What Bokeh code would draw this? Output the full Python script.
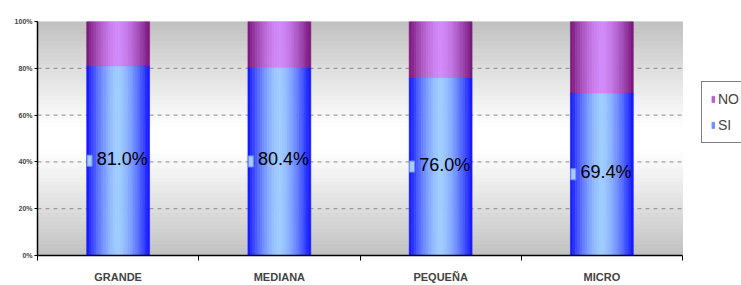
import numpy as np
from bokeh.plotting import figure
from bokeh.models import (ColumnDataSource, Range1d, FixedTicker, Legend, LegendItem)
from bokeh.transform import dodge
from bokeh.core.properties import value
from bokeh.embed import file_html
from bokeh.resources import INLINE

# ---- data ----
categories = ["GRANDE", "MEDIANA", "PEQUEÑA", "MICRO"]
si_values = [81.0, 80.4, 76.0, 69.4]
no_values = [19.0, 19.6, 24.0, 30.6]
si_labels = ["81.0%", "80.4%", "76.0%", "69.4%"]
y_ticks = [0, 20, 40, 60, 80, 100]
y_tick_labels = ["0%", "20%", "40%", "60%", "80%", "100%"]
grid_ticks = [20, 40, 60, 80]
series_names = ["NO", "SI"]

ncat = len(categories)
xs = [i + 0.5 for i in range(ncat)]
si_arr = np.array(si_values)
no_arr = np.array(no_values)
src = ColumnDataSource(dict(
    x=xs, si=si_arr, top=si_arr + no_arr, mid=si_arr / 2.0, lbl=si_labels,
))

W, H = 741, 285
left_b, top_b, bottom_b = 37, 21, 27
cat_px = 645
frame_px = W - left_b
x_end = ncat * frame_px / cat_px

p = figure(width=W, height=H, output_backend="svg", toolbar_location=None,
           x_range=Range1d(0, x_end), y_range=Range1d(0, 100),
           min_border_left=left_b, min_border_right=0, min_border_top=top_b,
           min_border_bottom=bottom_b)
p.outline_line_color = None
p.background_fill_color = "white"
p.border_fill_color = "white"

# background vertical gradient of plot area
nb = 60
edges = np.linspace(0, 100, nb + 1)
bg_cols = []
for i in range(nb):
    yc = (edges[i] + edges[i + 1]) / 2
    d = abs(yc - 50) / 50.0
    f = min(1.0, max(0.0, (d - 0.08) / 0.92)) ** 1.1
    g = int(round(255 - f * (255 - 192)))
    bg_cols.append("#%02x%02x%02x" % (g, g, g))
p.quad(left=0, right=ncat, bottom=edges[:-1], top=edges[1:], fill_color=bg_cols,
       line_color=bg_cols, line_width=1, level="underlay")

# grid (only over the category area)
p.xgrid.grid_line_color = None
p.ygrid.grid_line_color = None
p.segment(x0=0, x1=ncat, y0=grid_ticks, y1=grid_ticks, line_color="#8a8a8a",
          line_dash="4 4", line_width=1, level="underlay")

# bars with horizontal gradient strips
bar_w = 0.39
ns = 26
sw = bar_w / ns

def mix(c1, c2, f):
    return "#%02x%02x%02x" % tuple(int(round(a + (b - a) * f)) for a, b in zip(c1, c2))

blue_edge, blue_center = (15, 15, 255), (160, 205, 255)
purp_edge, purp_center = (120, 18, 120), (210, 138, 250)
legend_r = {}
for k in range(ns):
    off = -bar_w / 2 + sw * (k + 0.5)
    t = abs(off) / (bar_w / 2)
    f = 1 - t ** 1.6
    cb = mix(blue_edge, blue_center, f)
    cp = mix(purp_edge, purp_center, f)
    r1 = p.vbar(x=dodge("x", off), width=sw, bottom=0, top="si", source=src,
                fill_color=cb, line_color=cb, line_width=0.6)
    r2 = p.vbar(x=dodge("x", off), width=sw, bottom="si", top="top", source=src,
                fill_color=cp, line_color=cp, line_width=0.6)
    if k == ns // 4:
        legend_r["SI"] = r1
        legend_r["NO"] = r2

# data labels with small key
p.rect(x=dodge("x", -0.177), y="mid", width=5, height=11, width_units="screen",
       height_units="screen", source=src, fill_color="#a8ccff",
       line_color="#6f8fff", line_width=1)
p.text(x=dodge("x", -0.133), y="mid", text="lbl", source=src,
       text_font=value("Liberation Sans"), text_font_size="18px",
       text_color="black", text_align="left", text_baseline="middle",
       y_offset=-2)

# axes
p.yaxis.ticker = FixedTicker(ticks=y_ticks)
p.yaxis.major_label_overrides = {t: l for t, l in zip(y_ticks, y_tick_labels)}
p.yaxis.major_label_text_font_size = "7px"
p.yaxis.major_label_text_font_style = "bold"
p.yaxis.major_label_text_font = "Liberation Sans"
p.yaxis.major_tick_out = 3
p.yaxis.major_tick_in = 0
p.yaxis.minor_tick_line_color = None
p.yaxis.axis_line_width = 1.5
p.yaxis.axis_line_color = "black"
p.yaxis.major_label_standoff = 2

p.xaxis.bounds = (0, ncat)
p.xaxis.ticker = FixedTicker(ticks=xs, minor_ticks=list(range(ncat + 1)))
p.xaxis.major_label_overrides = {x: c for x, c in zip(xs, categories)}
p.xaxis.major_tick_line_color = None
p.xaxis.minor_tick_line_color = "black"
p.xaxis.minor_tick_out = 5
p.xaxis.minor_tick_in = 0
p.xaxis.axis_line_color = "black"
p.xaxis.axis_line_width = 1.5
p.xaxis.major_label_text_font_size = "11px"
p.xaxis.major_label_text_font_style = "bold"
p.xaxis.major_label_text_font = "Liberation Sans"
p.xaxis.major_label_standoff = 9

# legend
legend = Legend(items=[LegendItem(label=n, renderers=[legend_r[n]]) for n in series_names],
                location=(664, 112), orientation="vertical",
                label_text_font_size="14px", label_text_font="Liberation Sans",
                glyph_width=4, glyph_height=8, label_height=14, spacing=10,
                padding=9, margin=0, border_line_color="black",
                border_line_width=1, background_fill_color="white",
                background_fill_alpha=1, label_standoff=3)
p.add_layout(legend, "center")

open("out.html", "w").write(file_html(p, INLINE))
